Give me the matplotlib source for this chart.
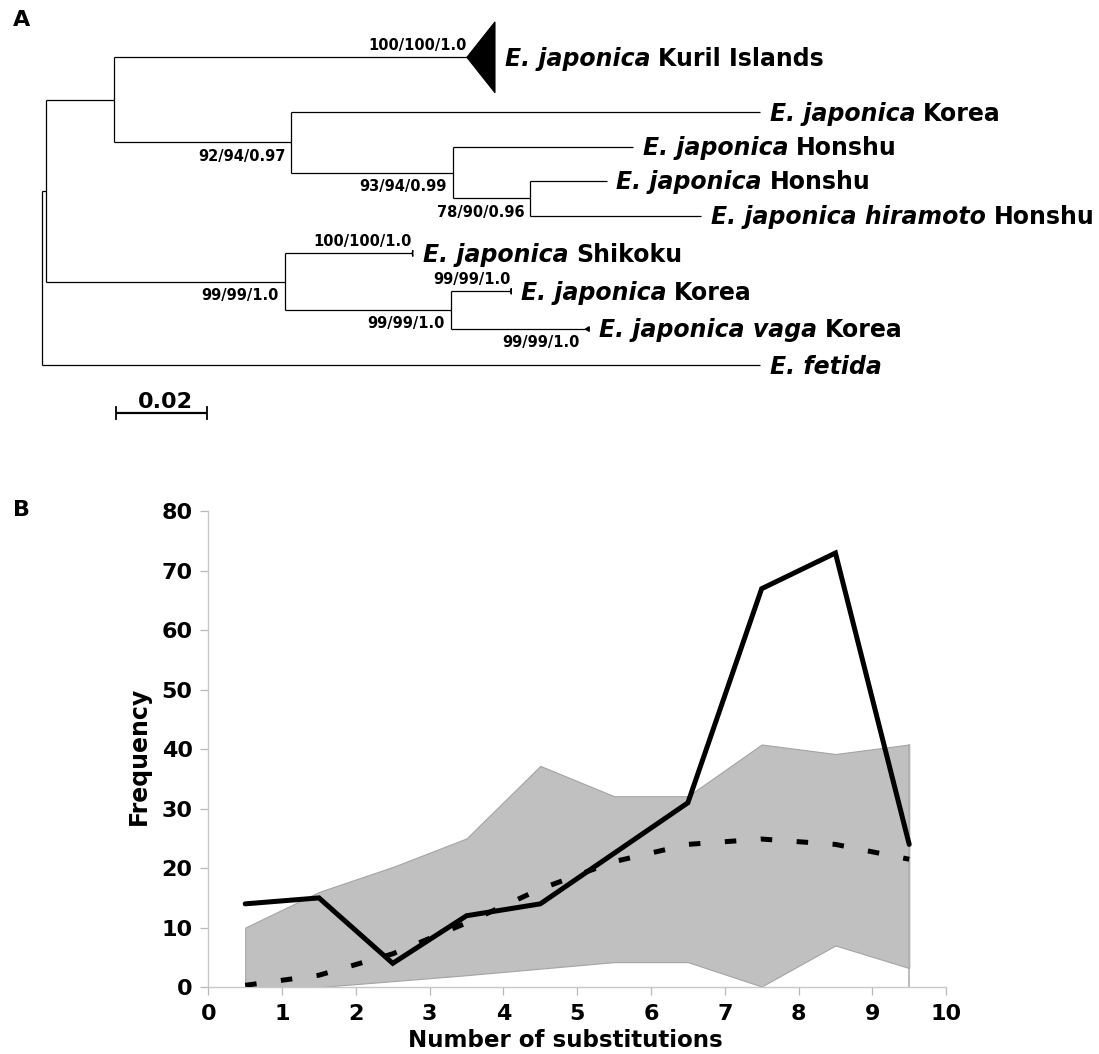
import matplotlib
matplotlib.use("Agg")
import matplotlib.pyplot as plt
from matplotlib.patches import Polygon

plt.rcParams['font.family'] = ['DejaVu Sans']

# ================= Panel A : phylogenetic tree data =================
node_names = ["root", "ingroup", "upper", "kuril", "n92", "korea1", "n93", "honshu1",
              "n78", "honshu2", "hiramoto", "lower", "shikoku", "n99b", "korea2",
              "vaga", "fetida"]
node_parent = [None, "root", "ingroup", "upper", "upper", "n92", "n92", "n93",
               "n93", "n78", "n78", "ingroup", "lower", "lower", "n99b",
               "n99b", "root"]
branch_length = [0.0, 0.0008, 0.0150, 0.0778, 0.0391, 0.1034, 0.0356, 0.0397,
                 0.0171, 0.0168, 0.0377, 0.0526, 0.0281, 0.0367, 0.0131,
                 0.0296, 0.1583]

leaf_ids = ["kuril", "korea1", "honshu1", "honshu2", "hiramoto", "shikoku",
            "korea2", "vaga", "fetida"]
leaf_rows = [0.0, 1.6, 2.6, 3.6, 4.6, 5.7, 6.8, 7.9, 8.95]
leaf_taxon = ["E. japonica", "E. japonica", "E. japonica", "E. japonica",
              "E. japonica hiramoto", "E. japonica", "E. japonica",
              "E. japonica vaga", "E. fetida"]
leaf_locality = ["Kuril Islands", "Korea", "Honshu", "Honshu", "Honshu",
                 "Shikoku", "Korea", "Korea", ""]

collapsed_ids = ["kuril", "shikoku", "korea2", "vaga"]
collapsed_depth = [0.0062, 0.0002, 0.0002, 0.0009]
collapsed_half = [1.03, 0.09, 0.09, 0.07]

support_ids = ["kuril", "n92", "n93", "n78", "lower", "shikoku", "n99b",
               "korea2", "vaga"]
support_text = ["100/100/1.0", "92/94/0.97", "93/94/0.99", "78/90/0.96",
                "99/99/1.0", "100/100/1.0", "99/99/1.0", "99/99/1.0",
                "99/99/1.0"]
support_side = ["above", "below", "below", "below", "below", "above",
                "below", "above", "below"]

scale_length = 0.02
scale_label = "0.02"

# ================= Panel B : substitution frequency data =================
substitutions = [0.5, 1.5, 2.5, 3.5, 4.5, 5.5, 6.5, 7.5, 8.5, 9.5]
observed = [14, 15, 4, 12, 14, 22.5, 31, 67, 73, 24]
expected = [0.3, 2.0, 5.6, 10.8, 16.5, 21.1, 24.0, 24.9, 24.0, 21.5]
ci_upper = [10, 16, 20.2, 25, 37.2, 32.1, 32.1, 40.8, 39.2, 40.8]
ci_lower = [0, 0, 1.0, 2.0, 3.1, 4.2, 4.2, 0.1, 7.0, 3.2]
x_ticks = list(range(0, 11))
y_ticks = list(range(0, 81, 10))

# ================= figure =================
W, H = 1099, 1054
fig = plt.figure(figsize=(W / 100, H / 100), dpi=100)

# ---------- panel A ----------
axA = fig.add_axes([0, 1 - 440 / H, 1, 440 / H])
axA.set_xlim(-0.00935, 0.23299)
axA.set_ylim(11.125, -1.666)
axA.axis('off')

parent = dict(zip(node_names, node_parent))
blen = dict(zip(node_names, branch_length))
children = {n: [] for n in node_names}
for n, p in zip(node_names, node_parent):
    if p:
        children[p].append(n)

xpos = {}


def set_x(n, x0):
    xpos[n] = x0 + blen[n]
    for c in children[n]:
        set_x(c, xpos[n])


set_x("root", 0.0)
ypos = dict(zip(leaf_ids, leaf_rows))


def set_y(n):
    if n in ypos:
        return ypos[n]
    ys = [set_y(c) for c in children[n]]
    ypos[n] = sum(ys) / len(ys)
    return ypos[n]


set_y("root")

tree_lw = 0.9
for n in node_names:
    p = parent[n]
    if p:
        axA.plot([xpos[p], xpos[n]], [ypos[n], ypos[n]], color='black',
                 lw=tree_lw, solid_capstyle='butt')
    if children[n]:
        cy = [ypos[c] for c in children[n]]
        axA.plot([xpos[n], xpos[n]], [min(cy), max(cy)], color='black',
                 lw=tree_lw, solid_capstyle='butt')

tip_extra = {}
for cid, d, h in zip(collapsed_ids, collapsed_depth, collapsed_half):
    x0, y0 = xpos[cid], ypos[cid]
    axA.add_patch(Polygon([(x0, y0), (x0 + d, y0 - h), (x0 + d, y0 + h)],
                          closed=True, facecolor='black', edgecolor='black',
                          lw=0.8))
    tip_extra[cid] = d

for lid, taxon, loc in zip(leaf_ids, leaf_taxon, leaf_locality):
    xe = xpos[lid] + tip_extra.get(lid, 0.0)
    t1 = axA.annotate(taxon, xy=(xe, ypos[lid]), xytext=(7, -6.0),
                      textcoords='offset points', ha='left', va='baseline',
                      fontsize=17, fontweight='bold', fontstyle='italic')
    if loc:
        axA.annotate(loc, xy=(1, 0), xycoords=t1, xytext=(5.5, 0),
                     textcoords='offset points', ha='left', va='bottom',
                     fontsize=17, fontweight='bold')

for sid, txt, side in zip(support_ids, support_text, support_side):
    if side == "above":
        axA.annotate(txt, xy=(xpos[sid], ypos[sid]), xytext=(0, 5.2),
                     textcoords='offset points', ha='right', va='baseline',
                     fontsize=10.5, fontweight='bold')
    else:
        axA.annotate(txt, xy=(xpos[sid], ypos[sid]), xytext=(-4.3, -4.5),
                     textcoords='offset points', ha='right', va='top',
                     fontsize=10.5, fontweight='bold')

# scale bar
sb_x0, sb_y = 0.0162, 10.34
axA.plot([sb_x0, sb_x0 + scale_length], [sb_y, sb_y], color='black', lw=1.6,
         solid_capstyle='butt')
for xx in (sb_x0, sb_x0 + scale_length):
    axA.plot([xx, xx], [sb_y - 0.17, sb_y + 0.17], color='black', lw=1.3)
axA.annotate(scale_label, xy=(sb_x0 + scale_length / 2, sb_y), xytext=(3, 3.6),
             textcoords='offset points', ha='center', va='baseline',
             fontsize=16, fontweight='bold')

# panel letters
fig.text(13 / W, 1 - 20 / H, "A", ha='left', va='center', fontsize=16,
         fontweight='bold')
fig.text(13 / W, 1 - 510 / H, "B", ha='left', va='center', fontsize=16,
         fontweight='bold')

# ---------- panel B ----------
left, right, top, bottom = 208.3, 946.1, 511.4, 987.1
axB = fig.add_axes([left / W, (H - bottom) / H, (right - left) / W,
                    (bottom - top) / H])
axB.fill_between(substitutions, ci_lower, ci_upper, facecolor='#c0c0c0',
                 edgecolor='#a4a4a4', lw=0.8, zorder=1)
axB.vlines(substitutions[-1], 0, ci_upper[-1], color='#b0b0b0', lw=1.2,
           zorder=1.5)
axB.plot(substitutions, expected, color='black', lw=3.6,
         linestyle=(0, (2.3, 4.9)), dash_capstyle='butt', zorder=3)
axB.plot(substitutions, observed, color='black', lw=3.6,
         solid_capstyle='round', solid_joinstyle='miter', zorder=4)

axB.set_xlim(0, 10)
axB.set_ylim(0, 80)
axB.set_xticks(x_ticks)
axB.set_yticks(y_ticks)
for s in ('top', 'right'):
    axB.spines[s].set_visible(False)
for s in ('left', 'bottom'):
    axB.spines[s].set_color('#c8c8c8')
    axB.spines[s].set_linewidth(1.0)
axB.tick_params(axis='both', length=5.8, width=0.9, color='#b8b8b8',
                labelsize=16)
axB.tick_params(axis='y', pad=5.5)
axB.tick_params(axis='x', pad=6.5)
for lab in axB.get_xticklabels() + axB.get_yticklabels():
    lab.set_fontweight('bold')

axB.set_xlabel("Number of substitutions", fontsize=16.6, fontweight='bold')
axB.xaxis.set_label_coords((565 - left) / (right - left),
                           (bottom - 1047.3) / (bottom - top))
axB.xaxis.label.set_verticalalignment('baseline')
axB.set_ylabel("Frequency", fontsize=17, fontweight='bold')
axB.yaxis.set_label_coords((139 - left) / (right - left),
                           (bottom - 756) / (bottom - top))
axB.yaxis.label.set_verticalalignment('center')

fig.savefig("out.png", dpi=100)
